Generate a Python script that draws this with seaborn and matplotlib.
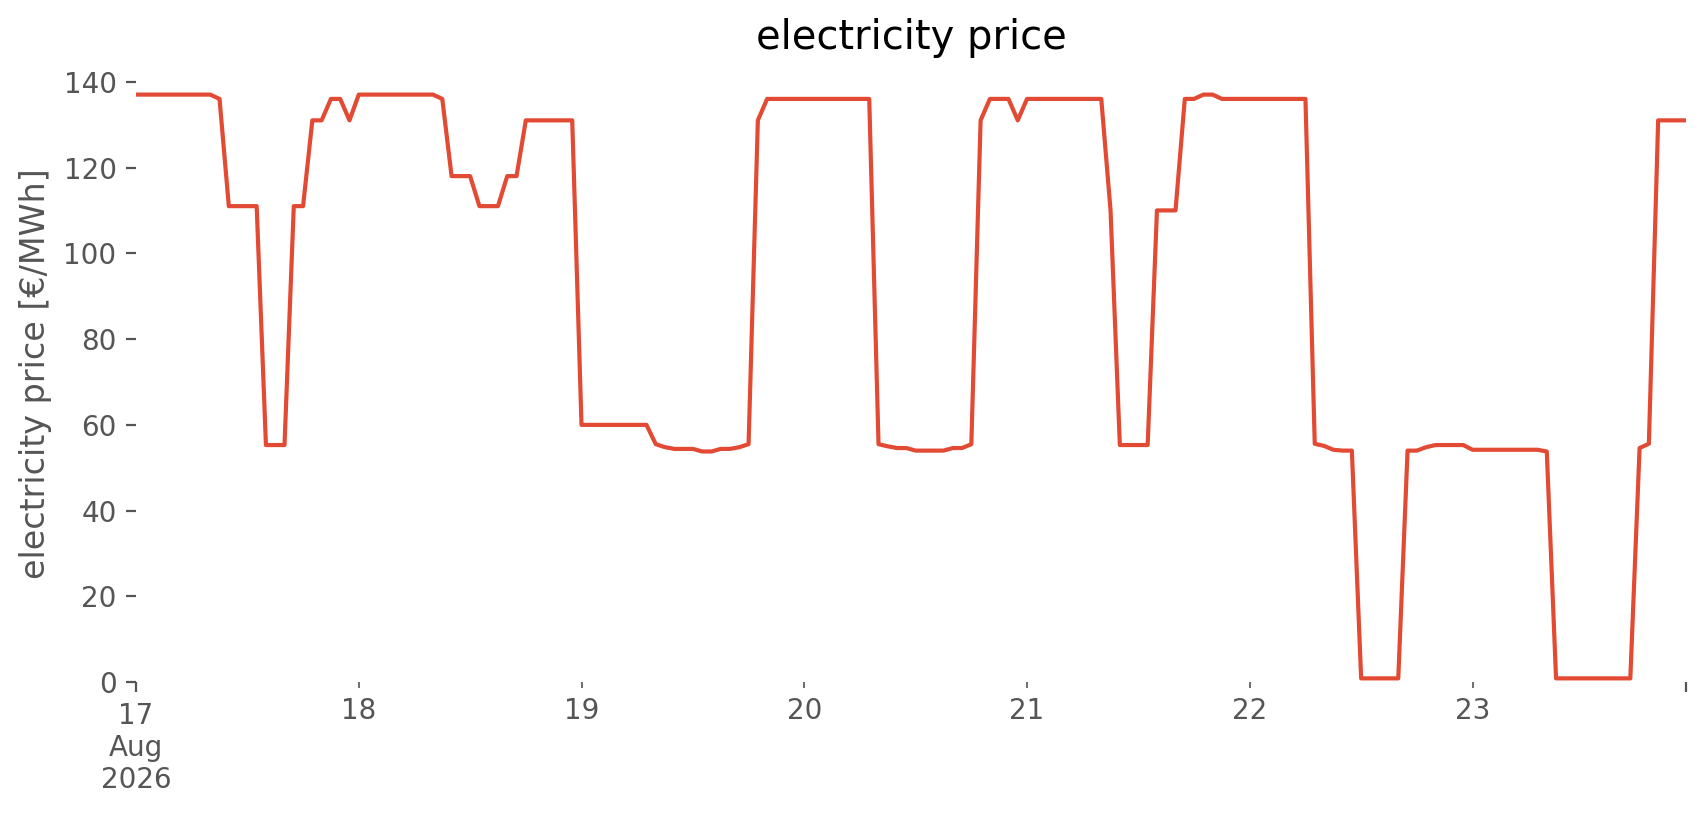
import matplotlib
matplotlib.use("Agg")
import matplotlib.pyplot as plt
import matplotlib.dates as mdates
import pandas as pd
import seaborn as sns

# hourly electricity prices [EUR/MWh], one list per day (Aug 17 .. Aug 23, 2026)
day17 = [137, 137, 137, 137, 137, 137, 137, 137, 137, 136, 111, 111,
         111, 111, 55.3, 55.3, 55.3, 111, 111, 131, 131, 136, 136, 131]
day18 = [137, 137, 137, 137, 137, 137, 137, 137, 137, 136, 118, 118,
         118, 111, 111, 111, 118, 118, 131, 131, 131, 131, 131, 131]
day19 = [60, 60, 60, 60, 60, 60, 60, 60, 55.5, 54.8, 54.4, 54.4,
         54.4, 53.8, 53.8, 54.4, 54.4, 54.8, 55.5, 131, 136, 136, 136, 136]
day20 = [136, 136, 136, 136, 136, 136, 136, 136, 55.5, 55.0, 54.6, 54.6,
         54.0, 54.0, 54.0, 54.0, 54.6, 54.6, 55.5, 131, 136, 136, 136, 131]
day21 = [136, 136, 136, 136, 136, 136, 136, 136, 136, 110, 55.3, 55.3,
         55.3, 55.3, 110, 110, 110, 136, 136, 137, 137, 136, 136, 136]
day22 = [136, 136, 136, 136, 136, 136, 136, 55.6, 55.1, 54.2, 54.0, 54.0,
         0.9, 0.9, 0.9, 0.9, 0.9, 54.0, 54.0, 54.8, 55.3, 55.3, 55.3, 55.3]
day23 = [54.2, 54.2, 54.2, 54.2, 54.2, 54.2, 54.2, 54.2, 53.8, 0.9, 0.9, 0.9,
         0.9, 0.9, 0.9, 0.9, 0.9, 0.9, 54.6, 55.6, 131, 131, 131, 131]

start_time = "2026-08-17 00:00"
major_tick_labels = ["17\nAug\n2026", ""]
minor_tick_days = ["2026-08-18", "2026-08-19", "2026-08-20",
                   "2026-08-21", "2026-08-22", "2026-08-23"]
minor_tick_labels = ["18", "19", "20", "21", "22", "23"]
y_ticks = [0, 20, 40, 60, 80, 100, 120, 140]

prices = day17 + day18 + day19 + day20 + day21 + day22 + day23
times = pd.date_range(start_time, periods=len(prices), freq="h")
df = pd.DataFrame({"time": times, "price": prices})

plt.style.use("ggplot")
fig = plt.figure(figsize=(1706 / 200, 815 / 200), dpi=200)
fig.patch.set_facecolor("white")
ax = fig.add_axes([136 / 1706, 0.1629, (1686 - 136) / 1706, 0.7568])

sns.lineplot(data=df, x="time", y="price", ax=ax, color="#E24A33",
             linewidth=1.5)

ax.set_facecolor("white")
ax.grid(False)
for s in ax.spines.values():
    s.set_visible(False)

ax.set_xlim(times[0], times[-1])
ax.set_ylim(0, 143.8)
ax.set_yticks(y_ticks)

ax.set_xticks(mdates.date2num([times[0], times[-1]]), major_tick_labels)
ax.set_xticks(mdates.date2num(pd.to_datetime(minor_tick_days)),
              minor_tick_labels, minor=True)
ax.tick_params(axis="x", which="major", length=3.5, colors="#555555",
               labelsize=10)
ax.tick_params(axis="x", which="minor", length=2, colors="#555555",
               labelsize=10, bottom=True)
ax.tick_params(axis="y", length=3.5, colors="#555555", labelsize=10)

ax.set_xlabel("")
ax.set_ylabel("electricity price [€/MWh]", fontsize=12, color="#555555")
ax.set_title("electricity price", fontsize=14.4, color="black")

fig.savefig("out.png", dpi=200, facecolor="white")
